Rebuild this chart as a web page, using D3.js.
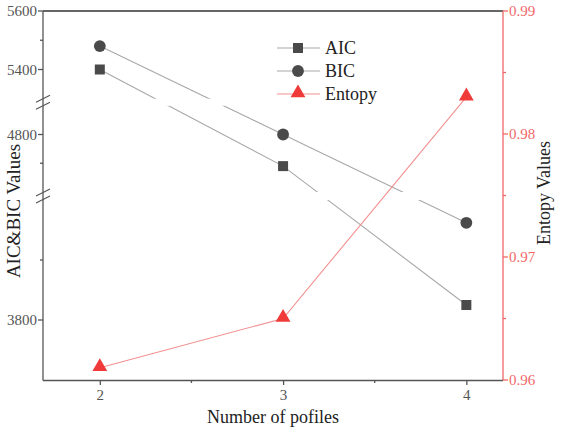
<!DOCTYPE html>
<html><head><meta charset="utf-8">
<script src="https://cdn.jsdelivr.net/npm/d3@7"></script>
<style>body{margin:0;background:#fff}svg{display:block}</style>
</head><body>
<svg id="c" width="567" height="433"></svg>
<script>
const profiles = [2, 3, 4];
const aicValues = [5400, 4690, 3825];
const bicValues = [5480, 4800, 3962];
const entropyValues = [0.961, 0.965, 0.983];
const xTicks = [2, 3, 4];
const xMinorTicks = [2.5, 3.5];
const leftMajorTicks = [5600, 5400, 4800, 3800];
const leftMinorTicks = [5500, 4700, 3900];
const entropyTicks = [0.96, 0.97, 0.98, 0.99];
const entropyMinorTicks = [0.965, 0.975, 0.985];
const segDomains = [[5300, 5600], [4600, 4900], [3700, 4000]];
const legendLabels = ["AIC", "BIC", "Entopy"];

const W = 567, H = 433;
const L = 43, R = 503, T = 11, B = 380;
const segRanges = [[98.75, T], [192, 105.75], [B, 200]];
const svg = d3.select("#c");
const font = "Liberation Serif, Times New Roman, serif";
const dark = "#4a4a4a", lineGray = "#a8a8a8", red = "#f03a3a", redLine = "#f39090", axisRed = "#f06868";

const x = d3.scaleLinear().domain([1.69, 4.2]).range([L, R]);
const segScales = segDomains.map((d, i) => d3.scaleLinear().domain(d).range(segRanges[i]));
function yLeft(v) {
  for (let i = 0; i < segDomains.length; i++) {
    if (v >= segDomains[i][0] - 1e-9 && v <= segDomains[i][1] + 1e-9) return segScales[i](v);
  }
  return null;
}
const yR = d3.scaleLinear().domain([0.96, 0.99]).range([B, T]);

const defs = svg.append("defs");
const cp = defs.append("clipPath").attr("id", "segclip");
segRanges.forEach(r => cp.append("rect").attr("x", L).attr("width", R - L)
  .attr("y", Math.min(r[0], r[1])).attr("height", Math.abs(r[0] - r[1])));

svg.append("line").attr("x1", L).attr("x2", R).attr("y1", T).attr("y2", T)
  .attr("stroke", "#333").attr("stroke-width", 1.3);

const xAxis = d3.axisBottom(x).tickValues(xTicks).tickSize(5).tickPadding(4).tickFormat(d3.format("d"));
const gx = svg.append("g").attr("transform", `translate(0,${B})`).call(xAxis);
gx.select(".domain").attr("d", `M${L},0.5H${R}`).attr("stroke", "#555").attr("stroke-width", 1.3);
gx.selectAll(".tick line").attr("stroke", "#555").attr("stroke-width", 1.3);
gx.selectAll(".tick text").attr("fill", "#555").attr("font-family", font).attr("font-size", 15);
gx.selectAll(".minor").data(xMinorTicks).enter().append("line")
  .attr("x1", d => x(d)).attr("x2", d => x(d)).attr("y1", 0).attr("y2", 3)
  .attr("stroke", "#555").attr("stroke-width", 1.3);

const gl = svg.append("g");
gl.append("line").attr("x1", L).attr("x2", L).attr("y1", T).attr("y2", B + 0.5)
  .attr("stroke", "#555").attr("stroke-width", 1.3);
gl.selectAll(".maj").data(leftMajorTicks).enter().append("line")
  .attr("x1", L - 5).attr("x2", L).attr("y1", d => yLeft(d)).attr("y2", d => yLeft(d))
  .attr("stroke", "#555").attr("stroke-width", 1.3);
gl.selectAll(".min").data(leftMinorTicks).enter().append("line")
  .attr("x1", L - 3).attr("x2", L).attr("y1", d => yLeft(d)).attr("y2", d => yLeft(d))
  .attr("stroke", "#555").attr("stroke-width", 1.3);
gl.selectAll(".lab").data(leftMajorTicks).enter().append("text")
  .attr("x", L - 6).attr("y", d => yLeft(d)).attr("dy", "0.35em").attr("text-anchor", "end")
  .attr("fill", "#555").attr("font-family", font).attr("font-size", 15).text(d => d);
[0, 1].forEach(i => {
  const yb = (segRanges[i][0] + segRanges[i + 1][1]) / 2;
  [-3.5, 3.5].forEach(o => {
    gl.append("line").attr("x1", L - 7).attr("x2", L + 7)
      .attr("y1", yb + o + 3.5).attr("y2", yb + o - 3.5)
      .attr("stroke", "#555").attr("stroke-width", 1.2);
  });
});

const gr = svg.append("g");
gr.append("line").attr("x1", R).attr("x2", R).attr("y1", T).attr("y2", B)
  .attr("stroke", axisRed).attr("stroke-width", 1.3);
gr.selectAll(".maj").data(entropyTicks).enter().append("line")
  .attr("x1", R).attr("x2", R + 5).attr("y1", d => yR(d)).attr("y2", d => yR(d))
  .attr("stroke", axisRed).attr("stroke-width", 1.3);
gr.selectAll(".min").data(entropyMinorTicks).enter().append("line")
  .attr("x1", R).attr("x2", R + 3).attr("y1", d => yR(d)).attr("y2", d => yR(d))
  .attr("stroke", axisRed).attr("stroke-width", 1.3);
gr.selectAll(".lab").data(entropyTicks).enter().append("text")
  .attr("x", R + 6).attr("y", d => yR(d)).attr("dy", "0.35em")
  .attr("fill", axisRed).attr("font-family", font).attr("font-size", 15).text(d => d.toFixed(2));

svg.append("text").attr("x", (L + R) / 2).attr("y", 423).attr("text-anchor", "middle")
  .attr("font-family", font).attr("font-size", 18).attr("fill", "#222").text("Number of pofiles");
svg.append("text").attr("transform", `translate(20,211) rotate(-90)`).attr("text-anchor", "middle")
  .attr("font-family", font).attr("font-size", 19).attr("fill", "#222").text("AIC&BIC Values");
svg.append("text").attr("transform", `translate(550,193) rotate(-90)`).attr("text-anchor", "middle")
  .attr("font-family", font).attr("font-size", 18).attr("fill", "#222").text("Entopy Values");

const lineL = d3.line().x((d, i) => x(profiles[i])).y(d => yLeft(d));
const lineR = d3.line().x((d, i) => x(profiles[i])).y(d => yR(d));
svg.append("path").attr("d", lineL(aicValues)).attr("fill", "none").attr("stroke", lineGray)
  .attr("stroke-width", 1.1).attr("clip-path", "url(#segclip)");
svg.append("path").attr("d", lineL(bicValues)).attr("fill", "none").attr("stroke", lineGray)
  .attr("stroke-width", 1.1).attr("clip-path", "url(#segclip)");
svg.append("path").attr("d", lineR(entropyValues)).attr("fill", "none").attr("stroke", redLine)
  .attr("stroke-width", 1.1);

const sq = d3.symbol().type(d3.symbolSquare).size(100);
const ci = d3.symbol().type(d3.symbolCircle).size(110);
const tr = d3.symbol().type(d3.symbolTriangle).size(95);
svg.selectAll(".aic").data(aicValues).enter().append("path").attr("d", sq)
  .attr("transform", (d, i) => `translate(${x(profiles[i])},${yLeft(d)})`).attr("fill", dark);
svg.selectAll(".bic").data(bicValues).enter().append("path").attr("d", ci)
  .attr("transform", (d, i) => `translate(${x(profiles[i])},${yLeft(d)})`).attr("fill", dark);
svg.selectAll(".ent").data(entropyValues).enter().append("path").attr("d", tr)
  .attr("transform", (d, i) => `translate(${x(profiles[i])},${yR(d) - 1})`).attr("fill", red);

const lg = svg.append("g");
const syms = [sq, ci, tr], fills = [dark, dark, red], strokes = [lineGray, lineGray, redLine];
legendLabels.forEach((lab, i) => {
  const yy = 48 + i * 23;
  lg.append("line").attr("x1", 277).attr("x2", 320).attr("y1", yy).attr("y2", yy)
    .attr("stroke", strokes[i]).attr("stroke-width", 1.1);
  lg.append("path").attr("d", syms[i]).attr("transform", `translate(298,${yy - (i === 2 ? 1 : 0)})`).attr("fill", fills[i]);
  lg.append("text").attr("x", 325).attr("y", yy).attr("dy", "0.35em")
    .attr("font-family", font).attr("font-size", 18).attr("fill", "#222").text(lab);
});
</script>
</body></html>
